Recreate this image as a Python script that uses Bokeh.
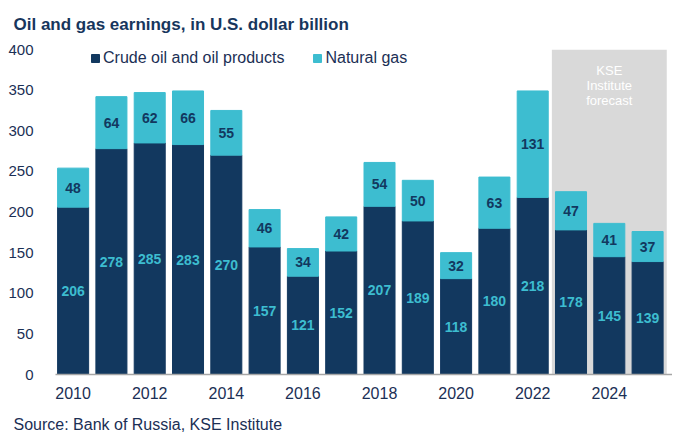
from bokeh.plotting import figure
from bokeh.models import ColumnDataSource, Title, Label, BoxAnnotation, Legend, LegendItem, FixedTicker, Range1d
from bokeh.embed import file_html
from bokeh.resources import INLINE

years = [2010, 2011, 2012, 2013, 2014, 2015, 2016, 2017, 2018, 2019, 2020, 2021, 2022, 2023, 2024, 2025]
crude = [206, 278, 285, 283, 270, 157, 121, 152, 207, 189, 118, 180, 218, 178, 145, 139]
gas = [48, 64, 62, 66, 55, 46, 34, 42, 54, 50, 32, 63, 131, 47, 41, 37]
x_ticks = [2010, 2012, 2014, 2016, 2018, 2020, 2022, 2024]
y_ticks = [0, 50, 100, 150, 200, 250, 300, 350, 400]

NAVY = "#12385f"
CYAN = "#3dbdd0"
TXT = "#1b2f55"
FONT = "Liberation Sans"

total = [c + g for c, g in zip(crude, gas)]
src = ColumnDataSource(dict(
    year=years, crude=crude, gas=gas, total=total,
    crude_mid=[c / 2 for c in crude],
    gas_mid=[c + g / 2 for c, g in zip(crude, gas)],
    crude_lbl=[str(v) for v in crude],
    gas_lbl=[str(v) for v in gas],
))

p = figure(width=672, height=446, output_backend="svg", toolbar_location=None,
           x_range=Range1d(2009.54, 2025.65), y_range=Range1d(0, 400),
           min_border_left=55, min_border_right=0, min_border_top=49, min_border_bottom=72)
p.outline_line_color = None
p.xgrid.grid_line_color = None
p.ygrid.grid_line_color = None

p.add_layout(BoxAnnotation(left=2022.5, right=2025.5, bottom=0, top=400,
                           fill_color="#d9d9d9", fill_alpha=1, line_color=None, level="underlay"))

r1 = p.vbar(x="year", bottom=0, top="crude", width=0.81, color=NAVY, source=src)
r2 = p.vbar(x="year", bottom="crude", top="total", width=0.81, color=CYAN, source=src)

p.text(x="year", y="crude_mid", text="crude_lbl", source=src, text_align="center",
       text_baseline="middle", text_color=CYAN, text_font_size="14px",
       text_font_style="bold", text_font={"value": FONT})
p.text(x="year", y="gas_mid", text="gas_lbl", source=src, text_align="center",
       text_baseline="middle", text_color=NAVY, text_font_size="14px",
       text_font_style="bold", text_font={"value": FONT})

p.add_layout(Label(x=2024, y=384, text="KSE\nInstitute\nforecast", text_align="center",
                   text_baseline="top", text_color="white", text_font_size="13px",
                   text_font=FONT, text_line_height=1.0))

legend = Legend(items=[LegendItem(label="Crude oil and oil products", renderers=[r1]),
                       LegendItem(label="Natural gas", renderers=[r2])],
                orientation="horizontal", location=(35, 307), background_fill_alpha=0,
                border_line_color=None, label_text_font=FONT, label_text_font_size="16px",
                label_text_color=TXT, glyph_width=10, glyph_height=10, spacing=28,
                label_standoff=3, padding=0, margin=0)
p.add_layout(legend)

p.xaxis.ticker = FixedTicker(ticks=x_ticks)
p.yaxis.ticker = FixedTicker(ticks=y_ticks)
for ax in (p.xaxis[0], p.yaxis[0]):
    ax.major_tick_line_color = None
    ax.minor_tick_line_color = None
    ax.major_label_text_font = FONT
    ax.major_label_text_color = TXT
p.xaxis.major_label_text_font_size = "16px"
p.yaxis.major_label_text_font_size = "15px"
p.yaxis.axis_line_color = None
p.xaxis.axis_line_color = "#a6a6a6"
p.xaxis.axis_line_width = 1.5
p.xaxis.major_label_standoff = 6
p.yaxis.major_label_standoff = 16

p.add_layout(Title(text="Source: Bank of Russia, KSE Institute", text_font=FONT,
                   text_font_size="16px", text_font_style="normal", text_color=TXT,
                   align="left", offset=-42, standoff=24), "below")
p.add_layout(Title(text="Oil and gas earnings, in U.S. dollar billion", text_font=FONT,
                   text_font_size="17px", text_font_style="bold", text_color="#17365d",
                   align="left", offset=-42, standoff=27, vertical_align="top"), "above")

open("out.html", "w").write(file_html(p, INLINE))
